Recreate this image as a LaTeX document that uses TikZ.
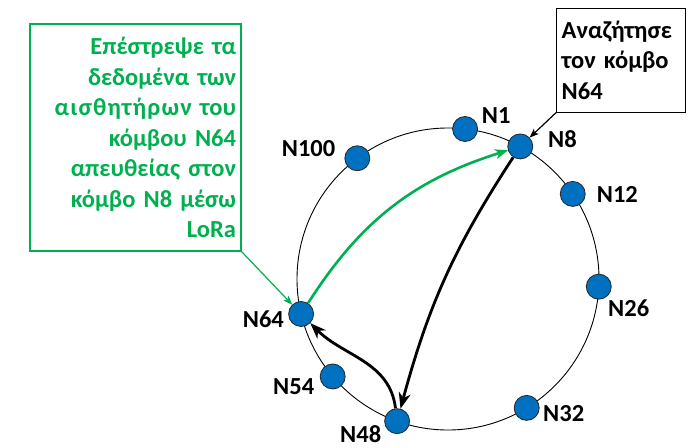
\documentclass[tikz,border=0pt]{standalone}
\usepackage{fontspec}
\setmainfont{Carlito}
\usetikzlibrary{arrows.meta}
\definecolor{pgreen}{RGB}{0,176,80}
\definecolor{pblue}{RGB}{0,112,192}
\begin{document}
\begin{tikzpicture}[x=1pt,y=1pt,
  dot/.style={circle,fill=pblue,draw=black!85,line width=0.8pt,minimum size=25pt,inner sep=0pt},
  lbl/.style={anchor=base west,inner sep=0pt,font=\fontsize{24.5}{30.5}\selectfont\bfseries},
  boxtext/.style={font=\fontsize{24.5}{30.5}\selectfont\bfseries,inner ysep=0pt,inner xsep=5pt},
  ring/.style={line width=0.9pt},
  bigarrow/.style={line width=2.8pt,-{Stealth[length=16pt,width=12pt,inset=5pt]}},
  greenarrow/.style={line width=2.6pt,draw=pgreen,-{Stealth[length=13pt,width=10pt,inset=4pt]}},
  callout/.style={line width=1.2pt,-{Stealth[length=9pt,width=7pt,inset=2pt]}}
]
\useasboundingbox (0,0) rectangle (692,-447);
\coordinate (c) at (448,-279);
\draw[ring] (c) circle (151);
\node[dot] (n1)   at ([shift={(83.5:151)}]c) {};
\node[dot] (n8)   at ([shift={(61.4:151)}]c) {};
\node[dot] (n12)  at ([shift={(34.3:151)}]c) {};
\node[dot] (n26)  at ([shift={(-2.9:151)}]c) {};
\node[dot] (n32)  at ([shift={(-58.6:151)}]c) {};
\node[dot] (n48)  at ([shift={(-109.7:151)}]c) {};
\node[dot] (n54)  at ([shift={(-139.8:151)}]c) {};
\node[dot] (n64)  at ([shift={(-166.6:151)}]c) {};
\node[dot] (n100) at ([shift={(126.9:151)}]c) {};

\node[lbl] (l1)   at (481.7,-123) {N1};
\node[lbl] (l8)   at (548,-147) {N8};
\node[lbl] (l100) at (281.7,-156.7) {N100};
\node[lbl] (l12)  at (596.7,-202.7) {N12};
\node[lbl] (l26)  at (608,-316.7) {N26};
\node[lbl] (l32)  at (543,-421.7) {N32};
\node[lbl] (l48)  at (340,-442) {N48};
\node[lbl] (l54)  at (273,-394) {N54};
\node[lbl] (l64)  at (242.7,-327.7) {N64};

\node[boxtext,draw=pgreen,line width=1.2pt,text=pgreen,text width=201pt,align=right,minimum height=227pt] (gbox) at (135.5,-137.5)
  {Επέστρεψε τα\\δεδομένα των\\{\addfontfeature{LetterSpace=5}αισθητήρων} του\\κόμβου N64\\απευθείας στον\\κόμβο N8 μέσω\\LoRa};
\node[boxtext,draw=black,line width=1pt,text width=118.3pt,align=left,minimum height=104pt] (bbox) at (620.85,-60)
  {Αναζήτησε\\τον κόμβο\\N64};

\draw[greenarrow] (n64) to[bend left=20] (n8);
\draw[bigarrow] (n8) to[bend right=9] (n48);
\draw[bigarrow] (n48) to[out=97,in=-45] (n64);
\draw[callout] (bbox.south west) -- (n8);
\draw[callout,draw=pgreen,fill=pgreen] (gbox.south east) -- (n64);
\end{tikzpicture}
\end{document}
